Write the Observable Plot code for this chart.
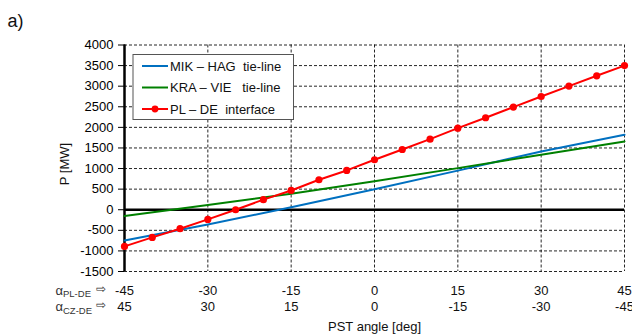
<!DOCTYPE html>
<html>
<head>
<meta charset="utf-8">
<script src="https://cdn.jsdelivr.net/npm/d3@7"></script>
<script src="https://cdn.jsdelivr.net/npm/@observablehq/plot@0.6"></script>
<style>
  html, body { margin: 0; padding: 0; background: #fff; }
  #chart svg { display: block; }
</style>
</head>
<body>
<div id="chart"></div>
<script>
// ---- data ----
const lineAngles = [-45, -30, -15, 0, 15, 30, 45];
const mikHag = [-745, -360, 60, 495, 950, 1415, 1820];
const kraVie = [-155, 115, 390, 690, 1010, 1335, 1658];
const plAngles = [-45, -40, -35, -30, -25, -20, -15, -10, -5, 0, 5, 10, 15, 20, 25, 30, 35, 40, 45];
const plDe = [-890, -672, -461, -235, 0, 245, 468, 728, 954, 1213, 1463, 1714, 1981, 2233, 2493, 2750, 3002, 3252, 3500];
const xTicks = [-45, -30, -15, 0, 15, 30, 45];
const xLabelsPL = ["-45", "-30", "-15", "0", "15", "30", "45"];
const xLabelsCZ = ["45", "30", "15", "0", "-15", "-30", "-45"];
const yTicks = [-1500, -1000, -500, 0, 500, 1000, 1500, 2000, 2500, 3000, 3500, 4000];
const seriesNames = ["MIK – HAG  tie-line", "KRA – VIE   tie-line", "PL – DE  interface"];
const seriesColors = ["#0070C0", "#008000", "#FF0000"];

const mikData = lineAngles.map((a, i) => ({a, p: mikHag[i]}));
const kraData = lineAngles.map((a, i) => ({a, p: kraVie[i]}));
const plData = plAngles.map((a, i) => ({a, p: plDe[i]}));
const tickRows = xTicks.map((t, i) => ({t, pl: xLabelsPL[i], cz: xLabelsCZ[i]}));

const FONT = "Arial, 'Liberation Sans', sans-serif";
const grid = {stroke: "#000", strokeOpacity: 0.85, strokeWidth: 1, strokeDasharray: "3,2"};
const lab = (txt, o) => Plot.text([txt], {text: d => d, lineAnchor: "middle", ...o});

const svg = Plot.plot({
  width: 632,
  height: 336,
  marginLeft: 124,
  marginRight: 8,
  marginTop: 44.5,
  marginBottom: 65,
  style: {fontFamily: FONT, fontSize: "13px", color: "#000", background: "#fff", overflow: "visible"},
  x: {domain: [-45, 45], axis: null},
  y: {domain: [-1500, 4000], axis: null},
  marks: [
    Plot.ruleY(yTicks, grid),
    Plot.ruleX(xTicks, grid),
    Plot.ruleY([0], {stroke: "#000", strokeWidth: 2.5}),
    Plot.ruleX([-45], {stroke: "#000", strokeWidth: 2.5}),
    Plot.axisY({ticks: yTicks, tickSize: 6, tickPadding: 5, label: null, fontSize: 13, tickFormat: d => String(d)}),
    Plot.line(mikData, {x: "a", y: "p", stroke: seriesColors[0], strokeWidth: 2}),
    Plot.line(kraData, {x: "a", y: "p", stroke: seriesColors[1], strokeWidth: 2}),
    Plot.line(plData, {x: "a", y: "p", stroke: seriesColors[2], strokeWidth: 2}),
    Plot.dot(plData, {x: "a", y: "p", fill: seriesColors[2], r: 3.6}),
    // x tick labels (two rows)
    Plot.text(tickRows, {x: "t", text: "pl", frameAnchor: "bottom", lineAnchor: "middle", dy: 19.5, fontSize: 13, fill: "#111"}),
    Plot.text(tickRows, {x: "t", text: "cz", frameAnchor: "bottom", lineAnchor: "middle", dy: 35.5, fontSize: 13, fill: "#111"}),
    // row captions
    lab("α", {frameAnchor: "bottom-left", dx: -69, dy: 19, textAnchor: "start", fontSize: 13, fill: "#333"}),
    lab("PL-DE", {frameAnchor: "bottom-left", dx: -61.5, dy: 22.5, textAnchor: "start", fontSize: 9.5, fill: "#333"}),
    lab("⇨", {frameAnchor: "bottom-left", dx: -29, dy: 17.5, textAnchor: "start", fontSize: 12, fill: "#333"}),
    lab("α", {frameAnchor: "bottom-left", dx: -69, dy: 35.5, textAnchor: "start", fontSize: 13, fill: "#333"}),
    lab("CZ-DE", {frameAnchor: "bottom-left", dx: -61.5, dy: 39, textAnchor: "start", fontSize: 9.5, fill: "#333"}),
    lab("⇨", {frameAnchor: "bottom-left", dx: -29, dy: 34, textAnchor: "start", fontSize: 12, fill: "#333"}),
    // axis titles
    lab("PST angle [deg]", {x: 0, frameAnchor: "bottom", dy: 55, fontSize: 13, fill: "#111"}),
    lab("a)", {frameAnchor: "top-left", dx: -117, dy: -23.5, textAnchor: "start", fontSize: 18, fill: "#111"})
  ]
});

const g = d3.select(svg).append("g").attr("font-family", FONT).attr("font-size", 13).attr("text-anchor", "start");
// y axis title
g.append("text").attr("transform", "translate(64,164) rotate(-90)").attr("text-anchor", "middle")
  .attr("dy", "0.35em").attr("fill", "#111").text("P [MW]");
// legend box
g.append("rect").attr("x", 133).attr("y", 54.5).attr("width", 160.5).attr("height", 65)
  .attr("fill", "#fff").attr("stroke", "#555").attr("stroke-width", 1);
const rowsY = [66, 87.5, 109];
seriesNames.forEach((name, i) => {
  const y = rowsY[i];
  g.append("line").attr("x1", 142).attr("x2", 168).attr("y1", y).attr("y2", y)
    .attr("stroke", seriesColors[i]).attr("stroke-width", 2);
  if (i === 2) g.append("circle").attr("cx", 155).attr("cy", y).attr("r", 3.4).attr("fill", seriesColors[i]);
  g.append("text").attr("x", 170).attr("y", y).attr("dy", "0.35em").attr("text-anchor", "start")
    .style("white-space", "pre").attr("fill", "#111").text(name);
});

document.getElementById("chart").appendChild(svg);
</script>
</body>
</html>
